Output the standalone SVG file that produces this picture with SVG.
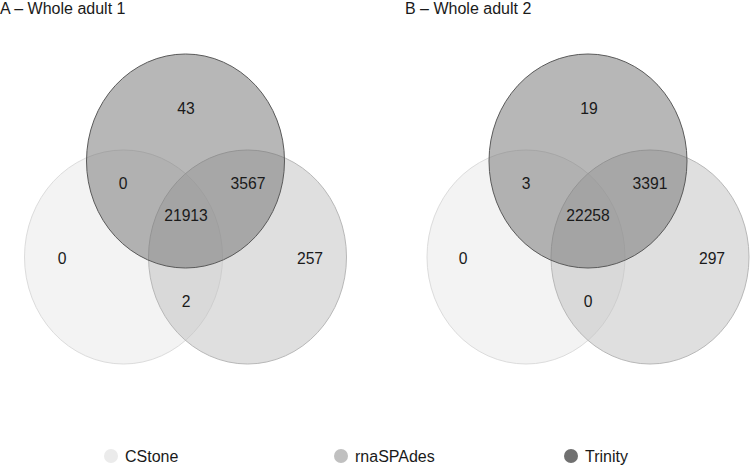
<svg xmlns="http://www.w3.org/2000/svg" width="750" height="466" viewBox="0 0 750 466">
<style>
text{font-family:"Liberation Sans",Arial,Helvetica,sans-serif;fill:#1a1a1a}
.t{font-size:16px}
.n{font-size:15.7px;text-anchor:middle}
.l{font-size:16px}
.cs{fill:#e8e8e8;fill-opacity:0.5;stroke:#dcdcdc;stroke-width:1}
.rs{fill:#c0c0c0;fill-opacity:0.5;stroke:#b8b8b8;stroke-width:1}
.tr{fill:#707070;fill-opacity:0.5;stroke:#5a5a5a;stroke-width:1}
</style>
<rect width="750" height="466" fill="#ffffff"/>
<g id="panelA">
<text class="t" x="0" y="14">A – Whole adult 1</text>
<g id="A-CStone"><ellipse class="cs" cx="123.5" cy="257" rx="99" ry="107"/></g>
<g id="A-rnaSPAdes"><ellipse class="rs" cx="247.5" cy="257" rx="99" ry="107"/></g>
<g id="A-Trinity"><ellipse class="tr" cx="185.5" cy="161" rx="99" ry="107"/></g>
<g id="A-labels">
<text class="n" x="186" y="113.6">43</text>
<text class="n" x="123" y="188.6">0</text>
<text class="n" x="248" y="188.6">3567</text>
<text class="n" x="186" y="220.6">21913</text>
<text class="n" x="62" y="263.6">0</text>
<text class="n" x="310" y="263.6">257</text>
<text class="n" x="186" y="306.6">2</text>
</g>
</g>
<g id="panelB">
<text class="t" x="405" y="14">B – Whole adult 2</text>
<g id="B-CStone"><ellipse class="cs" cx="526" cy="257" rx="99" ry="107"/></g>
<g id="B-rnaSPAdes"><ellipse class="rs" cx="650" cy="257" rx="99" ry="107"/></g>
<g id="B-Trinity"><ellipse class="tr" cx="588" cy="161" rx="99" ry="107"/></g>
<g id="B-labels">
<text class="n" x="589" y="113.6">19</text>
<text class="n" x="526" y="188.6">3</text>
<text class="n" x="650" y="188.6">3391</text>
<text class="n" x="588" y="220.6">22258</text>
<text class="n" x="463" y="263.6">0</text>
<text class="n" x="712" y="263.6">297</text>
<text class="n" x="588" y="306.6">0</text>
</g>
</g>
<g id="connectors"></g>
<g id="legend">
<g id="leg-CStone"><circle cx="111" cy="456" r="7" fill="#ebebeb"/><text class="l" x="125" y="461.7">CStone</text></g>
<g id="leg-rnaSPAdes"><circle cx="341" cy="456" r="7" fill="#c0c0c0"/><text class="l" x="355" y="461.7">rnaSPAdes</text></g>
<g id="leg-Trinity"><circle cx="571" cy="456" r="7" fill="#707070"/><text class="l" x="585" y="461.7">Trinity</text></g>
</g>
</svg>
